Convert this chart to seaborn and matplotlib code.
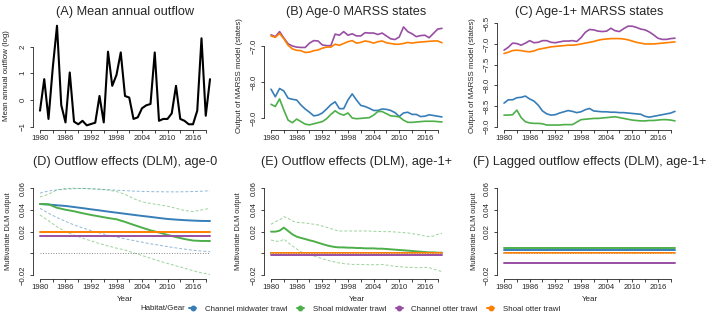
import numpy as np
import pandas as pd
import matplotlib
matplotlib.use('Agg')
import matplotlib.pyplot as plt
import seaborn as sns
from matplotlib.lines import Line2D

sns.set_theme(style='ticks')
plt.rcParams['font.family'] = ['Liberation Sans', 'DejaVu Sans']

# ---- data ----
years = np.arange(1980, 2021)
years2 = np.arange(1980, 2021, 2)

outflow = [-0.40, 0.78, -0.71, 1.20, 2.78, -0.19, -0.84, 1.03, -0.81, -0.91,
           -0.78, -0.95, -0.90, -0.85, 0.15, -0.84, 1.81, 0.53, 0.94, 1.78,
           0.15, 0.09, -0.71, -0.65, -0.31, -0.20, -0.15, 1.78, -0.78, -0.71,
           -0.71, -0.50, 0.53, -0.71, -0.78, -0.91, -0.91, -0.40, 2.31, -0.59, 0.78]

# (B) age-0 MARSS states
b_chan_mid = [-8.20, -8.41, -8.18, -8.25, -8.45, -8.48, -8.50, -8.64, -8.75, -8.84,
              -8.94, -8.92, -8.86, -8.75, -8.63, -8.55, -8.74, -8.74, -8.50, -8.33,
              -8.50, -8.65, -8.68, -8.73, -8.79, -8.79, -8.75, -8.76, -8.79, -8.85,
              -8.96, -8.86, -8.84, -8.90, -8.90, -8.96, -8.95, -8.91, -8.93, -8.95, -8.97]
b_shoal_mid = [-8.62, -8.68, -8.47, -8.78, -9.06, -9.13, -9.03, -9.10, -9.17, -9.19,
               -9.16, -9.13, -9.10, -9.02, -8.90, -8.80, -8.88, -8.92, -8.86, -9.00,
               -9.02, -9.01, -9.00, -8.99, -8.92, -8.82, -8.82, -8.88, -8.94, -8.95,
               -8.97, -9.06, -9.12, -9.12, -9.11, -9.10, -9.09, -9.09, -9.09, -9.10, -9.11]
b_chan_ot = [-6.69, -6.74, -6.60, -6.78, -6.94, -7.00, -7.03, -7.04, -7.04, -6.92,
             -6.85, -6.86, -6.97, -6.99, -6.99, -6.67, -6.70, -6.60, -6.70, -6.66,
             -6.72, -6.72, -6.63, -6.64, -6.64, -6.68, -6.64, -6.72, -6.80, -6.82,
             -6.75, -6.47, -6.60, -6.66, -6.74, -6.71, -6.70, -6.77, -6.65, -6.53, -6.51]
b_shoal_ot = [-6.72, -6.76, -6.65, -6.80, -6.98, -7.08, -7.12, -7.13, -7.18, -7.17,
              -7.13, -7.11, -7.06, -7.03, -7.03, -6.95, -6.98, -6.93, -6.88, -6.85,
              -6.92, -6.90, -6.86, -6.88, -6.92, -6.88, -6.86, -6.91, -6.93, -6.95,
              -6.95, -6.93, -6.90, -6.92, -6.90, -6.89, -6.88, -6.87, -6.86, -6.86, -6.91]

# (C) age-1+ MARSS states
c_chan_mid = [-8.43, -8.35, -8.35, -8.30, -8.29, -8.26, -8.33, -8.38, -8.48, -8.62,
              -8.69, -8.72, -8.71, -8.67, -8.64, -8.61, -8.63, -8.66, -8.64, -8.59,
              -8.56, -8.62, -8.63, -8.64, -8.64, -8.65, -8.65, -8.66, -8.66, -8.67,
              -8.68, -8.69, -8.70, -8.75, -8.77, -8.75, -8.73, -8.71, -8.69, -8.67, -8.63]
c_shoal_mid = [-8.72, -8.72, -8.71, -8.60, -8.78, -8.88, -8.91, -8.92, -8.92, -8.93,
               -8.96, -8.96, -8.96, -8.96, -8.95, -8.95, -8.95, -8.89, -8.83, -8.82,
               -8.81, -8.80, -8.80, -8.79, -8.78, -8.77, -8.76, -8.78, -8.80, -8.82,
               -8.84, -8.85, -8.86, -8.86, -8.85, -8.85, -8.84, -8.83, -8.83, -8.84, -8.86]
c_chan_ot = [-7.15, -7.08, -6.98, -6.99, -7.03, -6.98, -6.92, -6.97, -6.96, -6.92,
             -6.92, -6.96, -6.97, -6.95, -6.93, -6.93, -6.92, -6.94, -6.85, -6.72,
             -6.65, -6.66, -6.69, -6.70, -6.69, -6.62, -6.68, -6.70, -6.63, -6.57,
             -6.57, -6.60, -6.64, -6.66, -6.71, -6.78, -6.86, -6.89, -6.89, -6.87, -6.86]
c_shoal_ot = [-7.23, -7.20, -7.16, -7.15, -7.16, -7.18, -7.19, -7.17, -7.13, -7.11,
              -7.09, -7.07, -7.06, -7.05, -7.04, -7.03, -7.03, -7.02, -7.00, -6.98,
              -6.96, -6.94, -6.91, -6.89, -6.88, -6.87, -6.87, -6.87, -6.88, -6.90,
              -6.93, -6.96, -6.98, -7.00, -7.00, -7.00, -6.99, -6.98, -6.97, -6.96, -6.95]

# (D) outflow effects age-0, every 2 years
d_chan_mid = [0.0455, 0.0450, 0.0443, 0.0437, 0.0427, 0.0417, 0.0406, 0.0396, 0.0385, 0.0375, 0.0365,
              0.0355, 0.0345, 0.0336, 0.0326, 0.0317, 0.0311, 0.0306, 0.0302, 0.0299, 0.0298]
d_chan_mid_hi = [0.0555, 0.0575, 0.0585, 0.0592, 0.0596, 0.0598, 0.0596, 0.0592, 0.0587, 0.0582, 0.0578,
                 0.0574, 0.0571, 0.0569, 0.0568, 0.0567, 0.0567, 0.0568, 0.0570, 0.0573, 0.0577]
d_chan_mid_lo = [0.0415, 0.0370, 0.0330, 0.0295, 0.0262, 0.0235, 0.0210, 0.0188, 0.0168, 0.0150, 0.0134,
                 0.0118, 0.0103, 0.0088, 0.0075, 0.0062, 0.0050, 0.0039, 0.0029, 0.0021, 0.0015]
d_shoal_mid = [0.0455, 0.0452, 0.0420, 0.0402, 0.0388, 0.0370, 0.0354, 0.0340, 0.0326, 0.0314, 0.0290,
               0.0263, 0.0237, 0.0212, 0.0192, 0.0170, 0.0150, 0.0132, 0.0118, 0.0114, 0.0114]
d_shoal_mid_hi = [0.0520, 0.0545, 0.0585, 0.0598, 0.0600, 0.0598, 0.0594, 0.0590, 0.0583, 0.0570, 0.0545,
                  0.0505, 0.0475, 0.0460, 0.0448, 0.0435, 0.0415, 0.0395, 0.0385, 0.0400, 0.0415]
d_shoal_mid_lo = [0.0354, 0.0300, 0.0245, 0.0200, 0.0168, 0.0140, 0.0115, 0.0090, 0.0068, 0.0048, 0.0030,
                  0.0005, -0.0020, -0.0045, -0.0070, -0.0093, -0.0115, -0.0137, -0.0160, -0.0180, -0.0195]
d_chan_ot = 0.0163
d_shoal_ot = 0.0194

# (E) outflow effects age-1+
e_shoal_mid = [0.0200, 0.0200, 0.0209, 0.0237, 0.0206, 0.0175, 0.0154, 0.0142, 0.0132, 0.0120,
               0.0111, 0.0098, 0.0086, 0.0074, 0.0065, 0.0058, 0.0055, 0.0055, 0.0052, 0.0052,
               0.0049, 0.0049, 0.0046, 0.0046, 0.0046, 0.0043, 0.0043, 0.0040, 0.0037, 0.0034,
               0.0031, 0.0028, 0.0025, 0.0022, 0.0018, 0.0015, 0.0012, 0.0009, 0.0009, 0.0006, 0.0006]
e_shoal_mid_hi = [0.0268, 0.0292, 0.0308, 0.0338, 0.0323, 0.0298, 0.0286, 0.0283, 0.0280, 0.0274,
                  0.0268, 0.0262, 0.0252, 0.0240, 0.0228, 0.0215, 0.0206, 0.0206, 0.0206, 0.0206,
                  0.0206, 0.0206, 0.0206, 0.0206, 0.0203, 0.0203, 0.0200, 0.0200, 0.0200, 0.0197,
                  0.0194, 0.0191, 0.0188, 0.0182, 0.0175, 0.0169, 0.0160, 0.0154, 0.0160, 0.0175, 0.0185]
e_shoal_mid_lo = [0.0123, 0.0114, 0.0108, 0.0132, 0.0098, 0.0068, 0.0040, 0.0015, -0.0003, -0.0015,
                  -0.0025, -0.0037, -0.0049, -0.0062, -0.0071, -0.0080, -0.0089, -0.0095, -0.0098, -0.0102,
                  -0.0102, -0.0102, -0.0105, -0.0105, -0.0105, -0.0105, -0.0102, -0.0108, -0.0114, -0.0120,
                  -0.0123, -0.0126, -0.0129, -0.0129, -0.0132, -0.0132, -0.0129, -0.0132, -0.0145, -0.0157, -0.0169]
e_chan_mid = 0.0
e_chan_ot = -0.0011
e_shoal_ot = 0.0004

# (F) lagged outflow effects age-1+
f_chan_mid = 0.0027
f_shoal_mid = 0.0045
f_chan_ot = -0.0085
f_shoal_ot = 0.0004

gears = ['Channel midwater trawl', 'Shoal midwater trawl', 'Channel otter trawl', 'Shoal otter trawl']
colors = ['#377EB8', '#4DAF4A', '#984EA3', '#FF7F00']
pal = dict(zip(gears, colors))

# ---- figure ----
W, H = 709, 315
fig = plt.figure(figsize=(W / 100, H / 100), dpi=100)

def px_axes(x0, y0, x1, y1):
    return fig.add_axes([x0 / W, 1 - y1 / H, (x1 - x0) / W, (y1 - y0) / H])

cols = [(33.2, 216.8), (264.2, 448.8), (497.2, 681.8)]
axA, axB, axC = [px_axes(c[0], 22, c[1], 130) for c in cols]
axD, axE, axF = [px_axes(c[0], 184.8, c[1], 278.5) for c in cols]

xt = np.arange(1980, 2020, 3)
xtl = [str(y) if (y - 1980) % 6 == 0 else '' for y in xt]


def style(ax, yticks, ylabels, ylim, title, ylabel, pad, xlab=False, ylab_x=-0.115, ylab_fs=5.7):
    ax.set_xlim(1978.4, 2021.6)
    ax.set_ylim(*ylim)
    ax.set_xticks(xt)
    ax.set_xticklabels(xtl)
    ax.set_yticks(yticks)
    ax.set_yticklabels(ylabels)
    for s in ['top', 'right']:
        ax.spines[s].set_visible(False)
    for s in ['left', 'bottom']:
        ax.spines[s].set_linewidth(0.6)
        ax.spines[s].set_color('#222222')
    ax.spines['bottom'].set_bounds(xt[0], xt[-1])
    ax.spines['left'].set_bounds(yticks[0], yticks[-1])
    ax.tick_params(length=2.4, width=0.6, color='#222222', labelsize=5.6, pad=1.5)
    ax.tick_params(axis='y', pad=2.5)
    for lab in ax.get_yticklabels():
        lab.set_rotation(90)
        lab.set_va('center')
    ax.set_title(title, fontsize=9.2, pad=pad)
    ax.set_ylabel(ylabel, fontsize=ylab_fs)
    ax.yaxis.set_label_coords(ylab_x, 0.5)
    if xlab:
        ax.set_xlabel('Year', fontsize=5.8)
        ax.xaxis.set_label_coords(0.5, -0.19)
    else:
        ax.set_xlabel('')


# (A)
sns.lineplot(x=years, y=outflow, ax=axA, color='black', lw=1.5)
style(axA, [-1, 0, 1, 2], ['\u22121', '0', '1', '2'], (-1.124, 2.92),
      '(A) Mean annual outflow', 'Mean annual outflow (log)', 5.4, ylab_x=-0.125)

# (B), (C)
for ax, series, yt, ytl, ylim, title in [
        (axB, [b_chan_mid, b_shoal_mid, b_chan_ot, b_shoal_ot], [-9, -8, -7],
         ['\u22129.0', '\u22128.0', '\u22127.0'], (-9.333, -6.333), '(B) Age-0 MARSS states'),
        (axC, [c_chan_mid, c_shoal_mid, c_chan_ot, c_shoal_ot], [-9, -8.5, -8, -7.5, -7, -6.5],
         ['\u22129.0', '\u22128.5', '\u22128.0', '\u22127.5', '\u22127.0', '\u22126.5'], (-9.08, -6.469),
         '(C) Age-1+ MARSS states')]:
    df = pd.DataFrame({'year': np.tile(years, 4), 'value': np.concatenate(series),
                       'gear': np.repeat(gears, len(years))})
    sns.lineplot(data=df, x='year', y='value', hue='gear', palette=pal, ax=ax, lw=1.2, legend=False)
    style(ax, yt, ytl, ylim, title, 'Output of MARSS model (states)', 5.4)

dlm_ticks = [-0.02, 0.0, 0.02, 0.04, 0.06]
dlm_labels = ['\u22120.02', '', '0.02', '0.04', '0.06']
dlm_ylim = (-0.0232, 0.0632)
ci_kw = dict(lw=0.7, linestyle=(0, (3, 2)), alpha=0.55)

# (D)
axD.hlines(0, 1980, 2020, color='#888888', lw=0.7, linestyles=':')
sns.lineplot(x=years2, y=d_chan_mid_hi, ax=axD, color=colors[0], **ci_kw)
sns.lineplot(x=years2, y=d_chan_mid_lo, ax=axD, color=colors[0], **ci_kw)
sns.lineplot(x=years2, y=d_shoal_mid_hi, ax=axD, color=colors[1], **ci_kw)
sns.lineplot(x=years2, y=d_shoal_mid_lo, ax=axD, color=colors[1], **ci_kw)
sns.lineplot(x=years2, y=d_chan_mid, ax=axD, color=colors[0], lw=1.4)
sns.lineplot(x=years2, y=d_shoal_mid, ax=axD, color=colors[1], lw=1.4)
sns.lineplot(x=years, y=np.full(len(years), d_chan_ot), ax=axD, color=colors[2], lw=1.4)
sns.lineplot(x=years, y=np.full(len(years), d_shoal_ot), ax=axD, color=colors[3], lw=1.4)
style(axD, dlm_ticks, dlm_labels, dlm_ylim, '(D) Outflow effects (DLM), age-0',
      'Multivariate DLM output', 14, xlab=True, ylab_x=-0.113, ylab_fs=5.3)

# (E)
sns.lineplot(x=years, y=e_shoal_mid_hi, ax=axE, color=colors[1], **ci_kw)
sns.lineplot(x=years, y=e_shoal_mid_lo, ax=axE, color=colors[1], **ci_kw)
sns.lineplot(x=years, y=e_shoal_mid, ax=axE, color=colors[1], lw=1.4)
sns.lineplot(x=years, y=np.full(len(years), e_chan_mid), ax=axE, color=colors[0], lw=1.4)
sns.lineplot(x=years, y=np.full(len(years), e_chan_ot), ax=axE, color=colors[2], lw=1.4)
sns.lineplot(x=years, y=np.full(len(years), e_shoal_ot), ax=axE, color=colors[3], lw=1.4)
axE.hlines(0, 1980, 2020, color='#cccccc', lw=0.7, linestyles=':')
style(axE, dlm_ticks, dlm_labels, dlm_ylim, '(E) Outflow effects (DLM), age-1+',
      'Multivariate DLM output', 14, xlab=True, ylab_x=-0.12, ylab_fs=5.3)

# (F)
for lvl, c in zip([f_chan_mid, f_shoal_mid, f_chan_ot, f_shoal_ot], colors):
    sns.lineplot(x=years, y=np.full(len(years), lvl), ax=axF, color=c, lw=1.4)
axF.hlines(0, 1980, 2020, color='#cccccc', lw=0.7, linestyles=':')
style(axF, dlm_ticks, dlm_labels, dlm_ylim, '(F) Lagged outflow effects (DLM), age-1+',
      'Multivariate DLM output', 14, xlab=True, ylab_x=-0.105, ylab_fs=5.3)

# legend
handles = [Line2D([], [], color=c, marker='o', markersize=3.2, lw=1.4) for c in colors]
fig.text(185 / W, 1 - 309 / H, 'Habitat/Gear', fontsize=5.7, ha='right', va='center')
fig.legend(handles, gears, loc='center left', bbox_to_anchor=(189 / W, 1 - 309 / H), ncol=4,
           frameon=False, fontsize=5.7, handlelength=0.9, handletextpad=1.1, columnspacing=1.2,
           borderpad=0, borderaxespad=0)

fig.savefig('out.png', dpi=100)
